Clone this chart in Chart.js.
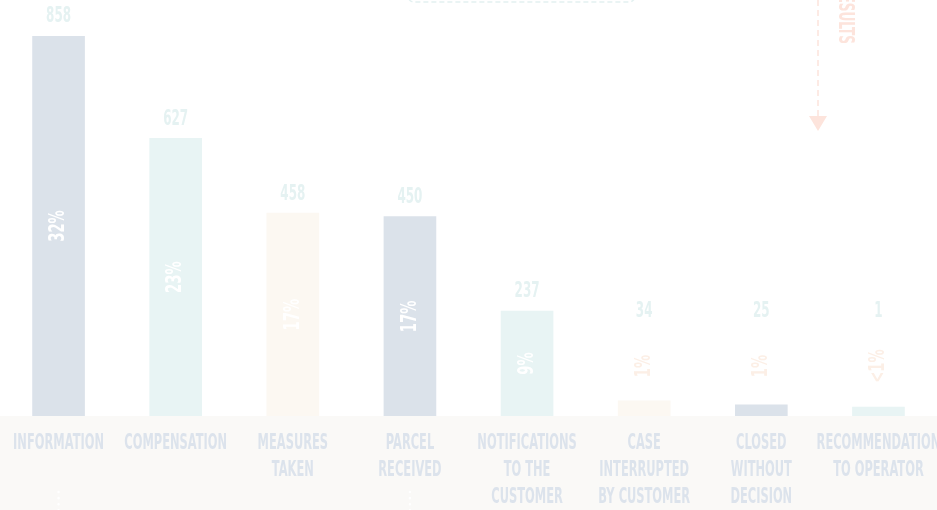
<!DOCTYPE html>
<html>
<head>
<meta charset="utf-8">
<script src="https://cdn.jsdelivr.net/npm/chart.js@4.4.1/dist/chart.umd.min.js"></script>
<style>
  html, body { margin: 0; padding: 0; background: #ffffff; overflow: hidden; }
  #wrap { width: 937px; height: 510px; }
</style>
</head>
<body>
<div id="wrap"><canvas id="myChart" width="937" height="510"></canvas></div>
<script>
// data
const categories = [
    ['INFORMATION'],
    ['COMPENSATION'],
    ['MEASURES', 'TAKEN'],
    ['PARCEL', 'RECEIVED'],
    ['NOTIFICATIONS', 'TO THE', 'CUSTOMER'],
    ['CASE', 'INTERRUPTED', 'BY CUSTOMER'],
    ['CLOSED', 'WITHOUT', 'DECISION'],
    ['RECOMMENDATION', 'TO OPERATOR']
];
const caseCounts = [858, 627, 458, 450, 237, 34, 25, 1];
const shareLabels = ['32%', '23%', '17%', '17%', '9%', '1%', '1%', '<1%'];
const barColors = ['#dbe2ea', '#e8f4f4', '#fcf8f2', '#dbe2ea', '#e8f4f4', '#fcf8f2', '#dbe2ea', '#e8f4f4'];

const FONT = "'DejaVu Sans', sans-serif";

// no condensed face installed, so narrow the glyphs by hand
function narrowText(ctx, text, x, y, size, squeeze, color, angle) {
    ctx.save();
    ctx.translate(x, y);
    if (angle) ctx.rotate(angle);
    ctx.scale(squeeze, 1);
    ctx.font = 'bold ' + size + 'px ' + FONT;
    ctx.fillStyle = color;
    ctx.fillText(text, 0, 0);
    ctx.restore();
}

// background band, decorations and bar labels
const decorPlugin = {
    id: 'decor',
    beforeDraw(chart) {
        const ctx = chart.ctx;
        const area = chart.chartArea;
        ctx.save();
        ctx.fillStyle = '#faf9f7';
        ctx.fillRect(0, area.bottom, chart.width, chart.height - area.bottom);

        // dashed box peeking at the top
        ctx.strokeStyle = '#e3f1f1';
        ctx.lineWidth = 1.5;
        ctx.setLineDash([5, 3]);
        ctx.beginPath();
        ctx.roundRect(408, -40, 227, 42, 6);
        ctx.stroke();

        // dashed arrow on the right
        ctx.strokeStyle = '#fde4dc';
        ctx.setLineDash([6, 4]);
        ctx.beginPath();
        ctx.moveTo(818, 0);
        ctx.lineTo(818, 118);
        ctx.stroke();
        ctx.setLineDash([]);
        ctx.fillStyle = '#fde4dc';
        ctx.beginPath();
        ctx.moveTo(809, 116);
        ctx.lineTo(827, 116);
        ctx.lineTo(818, 131);
        ctx.closePath();
        ctx.fill();

        ctx.textAlign = 'right';
        ctx.textBaseline = 'middle';
        narrowText(ctx, 'RESULTS', 845, 44, 22, 0.55, '#fde4dc', Math.PI / 2);
        ctx.restore();
    },
    afterDatasetsDraw(chart) {
        const ctx = chart.ctx;
        const meta = chart.getDatasetMeta(0);
        ctx.save();
        ctx.textAlign = 'center';
        ctx.textBaseline = 'middle';
        meta.data.forEach((bar, i) => {
            const h = bar.base - bar.y;
            let pctY, valY, pctColor;
            if (h > 60) {
                pctY = bar.y + h / 2;
                valY = bar.y - 19;
                pctColor = '#ffffff';
            } else {
                pctY = bar.base - 50;
                valY = bar.base - 104;
                pctColor = '#fcefe6';
            }
            narrowText(ctx, String(caseCounts[i]), bar.x, valY, 21, 0.57, '#e5f2f2', 0);
            narrowText(ctx, shareLabels[i], bar.x, pctY, 22, 0.6, pctColor, -Math.PI / 2);

            // category name under the bar
            categories[i].forEach((line, k) => {
                narrowText(ctx, line, bar.x, bar.base + 27 + k * 27, 22, 0.52, '#dce3ec', 0);
            });
        });

        // white dotted leaders below two labels
        ctx.strokeStyle = '#ffffff';
        ctx.lineWidth = 2.5;
        ctx.lineCap = 'round';
        ctx.setLineDash([0.1, 6]);
        [0, 3].forEach(i => {
            const x = meta.data[i].x;
            ctx.beginPath();
            ctx.moveTo(x, 492);
            ctx.lineTo(x, 512);
            ctx.stroke();
        });
        ctx.restore();
    }
};

new Chart(document.getElementById('myChart').getContext('2d'), {
    type: 'bar',
    data: {
        labels: categories,
        datasets: [{
            data: caseCounts,
            backgroundColor: barColors,
            borderWidth: 0,
            barThickness: 52,
            minBarLength: 9
        }]
    },
    options: {
        responsive: false,
        animation: false,
        layout: { padding: { top: 36, left: 0, right: 0, bottom: 0 } },
        plugins: {
            legend: { display: false },
            tooltip: { enabled: false }
        },
        scales: {
            x: {
                grid: { display: false, drawTicks: false },
                border: { display: false },
                ticks: { display: false },
                afterFit(scale) { scale.height = 94; }
            },
            y: {
                display: false,
                min: 0,
                max: 858
            }
        }
    },
    plugins: [decorPlugin]
});
</script>
</body>
</html>
